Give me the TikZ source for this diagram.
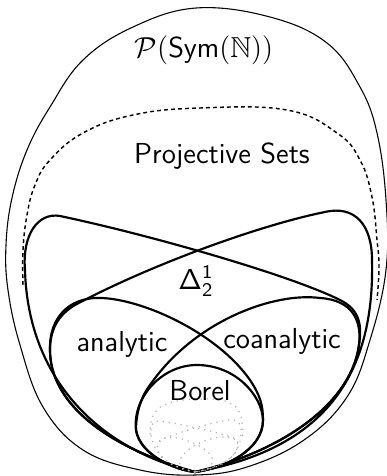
\documentclass[tikz,border=0pt]{standalone}
\usepackage{amsmath, amssymb}
\usepackage{tikz}

\begin{document}
\begin{tikzpicture}[x=0.415pt, y=-0.415pt]
\tikzset{region/.style = {line width=0.9pt, line join=round}}
\tikzset{outer/.style = {line width=0.45pt}}
\tikzset{projective/.style = {line width=0.6pt, dash pattern=on 1.6pt off 1.3pt}}
\tikzset{ghost/.style = {gray!60, line width=0.5pt, dotted}}
\tikzset{setname/.style = {font=\sffamily\large, inner sep=0pt}}
% outlines of the classes
\tikzset{
  projpath/.style = {insert path={plot[smooth, tension=0.7] coordinates {(23,285) (23,250) (27,215) (35,185) (50,160) (83,133) (133,115) (200,108) (287,110) (337,133) (360,160) (372,197) (377,240) (379,267) (377,300)}}},
  sigmapath/.style = {insert path={(195,472) .. controls (100,450) and (28,380) .. (25,270) .. controls (22,235) and (38,212) .. (60,216) .. controls (150,235) and (290,275) .. (340,300) .. controls (360,310) and (362,325) .. (359,345) .. controls (350,410) and (270,455) .. (195,472) -- cycle}},
  pipath/.style = {insert path={(195,472) .. controls (100,445) and (50,400) .. (50,350) .. controls (50,330) and (58,315) .. (75,305) .. controls (150,265) and (260,225) .. (325,212) .. controls (355,205) and (372,225) .. (372,260) .. controls (375,380) and (320,450) .. (195,472) -- cycle}},
  anapath/.style = {insert path={(195,472) .. controls (100,445) and (50,400) .. (50,350) .. controls (49,325) and (62,300) .. (95,298) .. controls (135,296) and (215,330) .. (250,380) .. controls (260,395) and (263,405) .. (263,420) .. controls (263,450) and (225,468) .. (195,472) -- cycle}},
  coanapath/.style = {insert path={(195,472) .. controls (270,455) and (350,410) .. (359,345) .. controls (362,320) and (352,300) .. (320,298) .. controls (275,292) and (195,320) .. (150,385) .. controls (140,398) and (136,415) .. (136,430) .. controls (140,455) and (175,470) .. (195,472) -- cycle}},
  borelpath/.style = {insert path={(195,472) .. controls (175,470) and (140,455) .. (136,430) .. controls (132,400) and (160,365) .. (197,365) .. controls (235,365) and (262,395) .. (263,420) .. controls (263,450) and (225,468) .. (195,472) -- cycle}}
}
\useasboundingbox (0,0) rectangle (387,476);

% power set
\draw[outer] plot[smooth cycle, tension=0.65] coordinates {(196,8) (270,17) (327,43) (360,87) (377,133) (386,200) (386,270) (370,340) (347,397) (304,440) (247,467) (195,475) (140,470) (83,450) (43,407) (20,345) (8,290) (6,245) (12,198) (27,150) (50,107) (83,60) (133,27)};

% projective sets and the rest
\draw[projective, projpath];
\draw[region, sigmapath];
\draw[region, pipath];
\draw[region, anapath];
\draw[region, coanapath];
\draw[region, borelpath];

% the same picture again, small, inside Borel
\begin{scope}[cm={0.26,0,0,0.2,(144.3,377.6)}]
\draw[ghost, projpath];
\draw[ghost, sigmapath];
\draw[ghost, pipath];
\draw[ghost, anapath];
\draw[ghost, coanapath];
\end{scope}

% labels
\node[setname] (power) at (204,50) {$\mathcal{P}(\mathsf{Sym}(\mathbb{N}))$};
\node[setname] (proj) at (222,156) {Projective Sets};
\node[setname] (delta) at (196,281) {$\mathsf{\Delta}^{\mathsf{1}}_{\mathsf{2}}$};
\node[setname] (ana) at (122,344) {analytic};
\node[setname] (coana) at (282,341) {coanalytic};
\node[setname] (borel) at (200,391) {Borel};

\end{tikzpicture}
\end{document}
